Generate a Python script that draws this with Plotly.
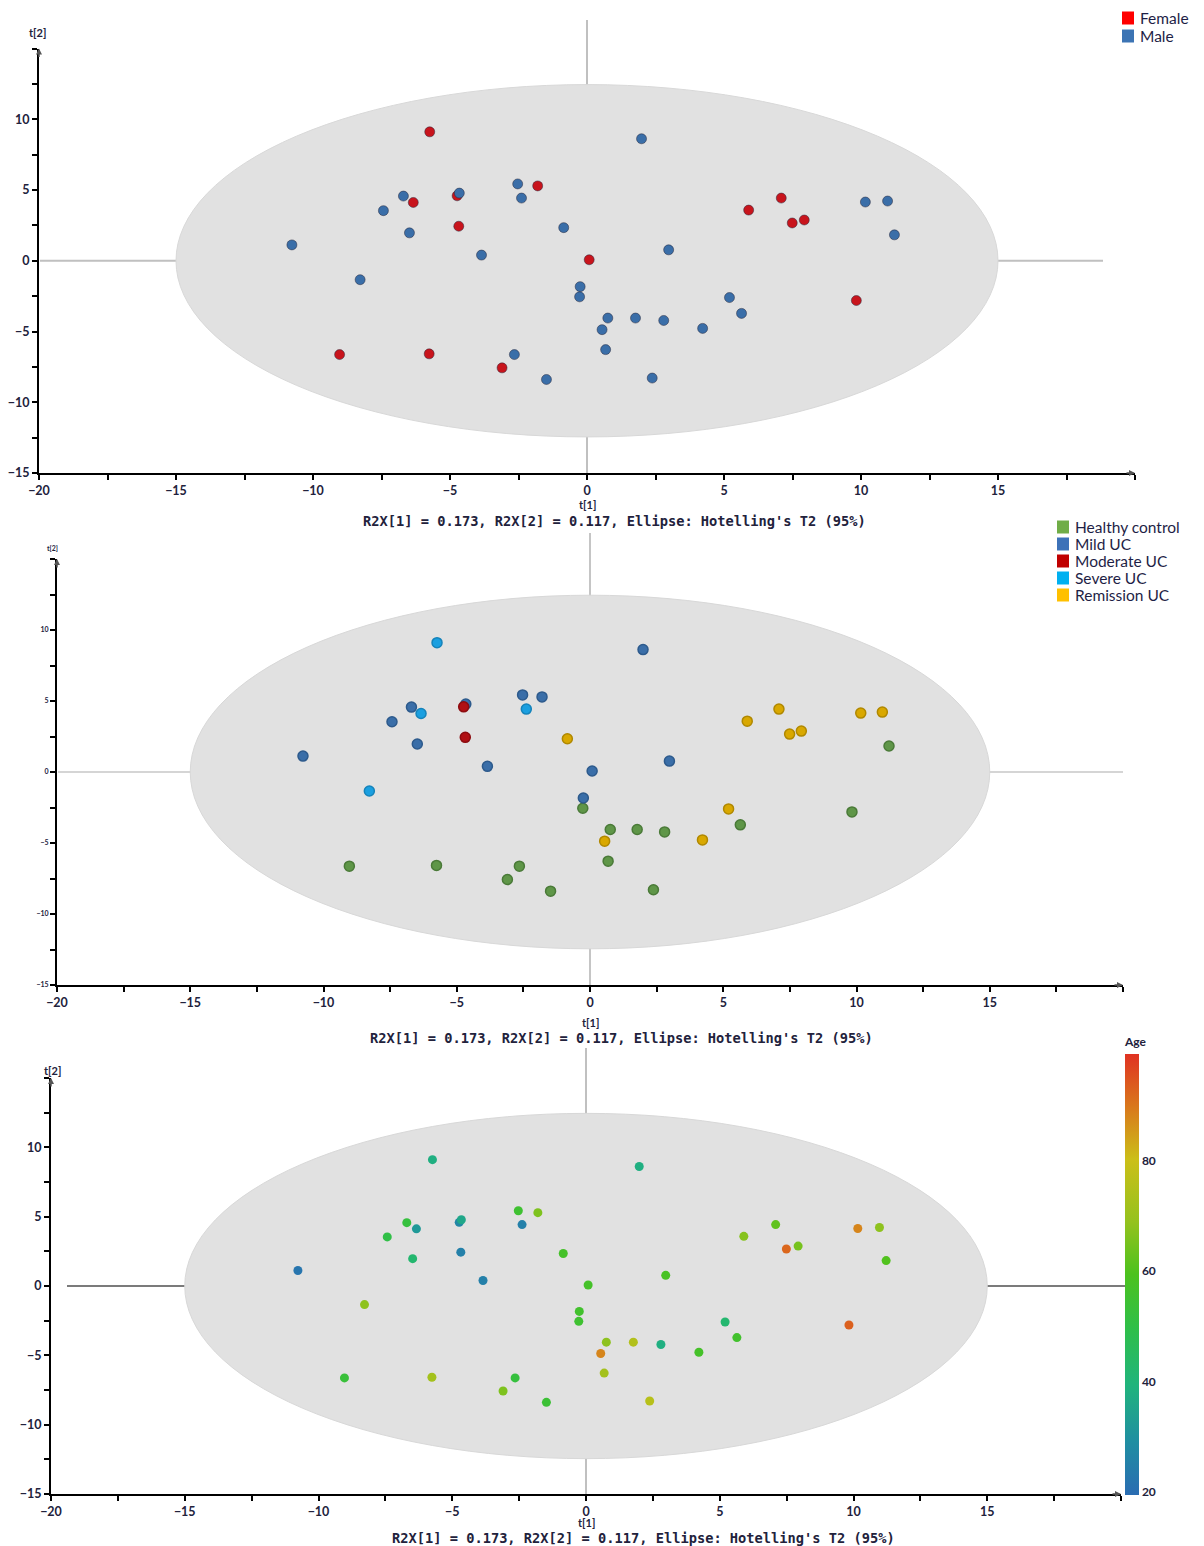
import plotly.graph_objects as go

# ---------------- data ----------------
t1 = [-5.74, -1.80, -6.34, -4.74, -4.68, 0.08, -9.03, -5.76, -3.10, 5.90, 7.09, 7.49, 7.93, 9.83,
      1.99, -2.53, -2.39, -6.70, -4.66, -7.43, -6.48, -0.85, -10.77, -3.85, -8.28, -0.25, -0.27,
      0.76, 1.77, 0.55, 0.68, -2.65, -1.48, 2.98, 2.80, 4.22, 5.20, 5.64, 2.38, 10.16, 10.97, 11.22]
t2 = [9.11, 5.29, 4.12, 4.59, 2.44, 0.07, -6.63, -6.58, -7.57, 3.58, 4.43, 2.67, 2.88, -2.81,
      8.62, 5.43, 4.43, 4.57, 4.78, 3.54, 1.97, 2.34, 1.12, 0.40, -1.34, -1.83, -2.55,
      -4.05, -4.05, -4.87, -6.28, -6.63, -8.39, 0.77, -4.22, -4.78, -2.60, -3.72, -8.29, 4.15, 4.22, 1.83]
sex = ["Female"] * 14 + ["Male"] * 28
group = ["Severe UC", "Mild UC", "Severe UC", "Moderate UC", "Moderate UC", "Mild UC",
         "Healthy control", "Healthy control", "Healthy control",
         "Remission UC", "Remission UC", "Remission UC", "Remission UC", "Healthy control",
         "Mild UC", "Mild UC", "Severe UC", "Mild UC", "Mild UC", "Mild UC", "Mild UC",
         "Remission UC", "Mild UC", "Mild UC", "Severe UC", "Mild UC", "Healthy control",
         "Healthy control", "Healthy control", "Remission UC", "Healthy control", "Healthy control",
         "Healthy control", "Mild UC", "Healthy control", "Remission UC", "Remission UC",
         "Healthy control", "Healthy control", "Remission UC", "Remission UC", "Healthy control"]
age = [38, 66, 32, 27, 25, 57, 53, 72, 66, 67, 62, 92, 65, 93,
       38, 55, 25, 52, 36, 50, 42, 57, 22, 25, 68, 56, 55,
       68, 75, 88, 72, 52, 54, 58, 38, 57, 42, 56, 76, 88, 68, 60]

sex_levels = ["Female", "Male"]
group_levels = ["Healthy control", "Mild UC", "Moderate UC", "Severe UC", "Remission UC"]
x_ticks = [-20, -15, -10, -5, 0, 5, 10, 15]
y_ticks = [-15, -10, -5, 0, 5, 10]
age_ticks = [20, 40, 60, 80]
ellipse_a, ellipse_b = 15.0, 12.45   # Hotelling's T2 (95%) semi-axes
footer = "R2X[1] = 0.173, R2X[2] = 0.117, Ellipse: Hotelling's T2 (95%)"

# ---------------- styles ----------------
sex_marker = {"Female": "#c8141c", "Male": "#3a6ea8"}
sex_legend = {"Female": "#ff0000", "Male": "#3c74b4"}
grp_marker = {"Healthy control": "#5f9648", "Mild UC": "#3a6ea8", "Moderate UC": "#b01014",
              "Severe UC": "#1a9fe0", "Remission UC": "#d9a800"}
grp_line = {"Healthy control": "#4a7a38", "Mild UC": "#2d5a8c", "Moderate UC": "#8c0c10",
            "Severe UC": "#1583ba", "Remission UC": "#b08800"}
grp_legend = {"Healthy control": "#70ad47", "Mild UC": "#3d72b8", "Moderate UC": "#c00000",
              "Severe UC": "#00b0f0", "Remission UC": "#ffc000"}
age_scale = [[0.0, "#2a6cb2"], [0.12, "#1f8ea2"], [0.25, "#20b47c"], [0.38, "#2fbf48"],
             [0.5, "#4cc21e"], [0.62, "#95c21e"], [0.76, "#cbbf18"], [0.88, "#d9781c"],
             [1.0, "#e03222"]]
TXT = "#22223c"

W, H = 1204, 1546
def px(x): return x / W
def py(y): return 1 - y / H

domains = {
    1: dict(x=[px(39), px(1135)], y=[py(473), py(48.5)]),
    2: dict(x=[px(57), px(1123)], y=[py(985), py(559)]),
    3: dict(x=[px(51), px(1121)], y=[py(1494), py(1078)]),
}

fig = go.Figure()

# Panel 1: sex
for s in sex_levels:
    idx = [i for i in range(len(t1)) if sex[i] == s]
    fig.add_trace(go.Scatter(
        x=[t1[i] for i in idx], y=[t2[i] for i in idx], mode="markers", name=s, showlegend=False,
        marker=dict(size=10, color=sex_marker[s], line=dict(width=1, color="rgba(40,40,60,0.5)")),
        xaxis="x", yaxis="y"))

# Panel 2: group
for g in group_levels:
    idx = [i for i in range(len(t1)) if group[i] == g]
    fig.add_trace(go.Scatter(
        x=[t1[i] for i in idx], y=[t2[i] for i in idx], mode="markers", name=g, showlegend=False,
        marker=dict(size=10, color=grp_marker[g], line=dict(width=1.5, color=grp_line[g])),
        xaxis="x2", yaxis="y2"))

# Panel 3: age
fig.add_trace(go.Scatter(
    x=t1, y=t2, mode="markers", name="Age", showlegend=False,
    marker=dict(size=9, color=age, colorscale=age_scale, cmin=19.5, cmax=99.3,
                colorbar=dict(thickness=14, lenmode="pixels", len=461, x=px(1125), xanchor="left",
                              xpad=0, ypad=0,
                              y=py(1034), yanchor="top", outlinewidth=0,
                              tickvals=age_ticks, ticks="", ticklabelposition="outside",
                              tickfont=dict(size=12, color=TXT, family="Lato", weight=700),
                              title=dict(text="Age", side="top",
                                         font=dict(size=12, color=TXT, family="Lato", weight=700)))),
    xaxis="x3", yaxis="y3"))

tickfont = dict(size=12.5, color=TXT, family="Lato", weight=700)
small_tickfont = dict(size=7, color=TXT, family="Lato", weight=700)

def xaxis_cfg(n, tf):
    return dict(domain=domains[n]["x"], range=[-20, 20], anchor="y" if n == 1 else f"y{n}",
                tickvals=x_ticks, ticks="outside", ticklen=5, tickwidth=1.5, tickcolor="black",
                minor=dict(dtick=2.5, tick0=0, ticks="outside", ticklen=5, tickwidth=1.5, tickcolor="black"),
                showline=True, linecolor="black", linewidth=2, showgrid=False, zeroline=False,
                tickfont=tf, fixedrange=True, automargin=False)

def yaxis_cfg(n, tf):
    return dict(domain=domains[n]["y"], range=[-15, 15], anchor="x" if n == 1 else f"x{n}",
                tickvals=y_ticks, ticks="outside", ticklen=5, tickwidth=1.5, tickcolor="black",
                minor=dict(dtick=2.5, tick0=0, ticks="outside", ticklen=5, tickwidth=1.5, tickcolor="black"),
                showline=True, linecolor="black", linewidth=2, showgrid=False, zeroline=False,
                tickfont=tf, fixedrange=True, automargin=False)

shapes = []
annotations = []
panel_lines = {
    1: dict(v=(py(473), py(20)), h=(px(40), px(1103)), hcol="rgba(140,140,140,0.55)", vcol="rgba(150,150,150,0.6)",
            t1y=504, foot=(614, 521), t2=(37, 32, 11)),
    2: dict(v=(py(985), py(533)), h=(px(58), px(1123)), hcol="rgba(150,150,150,0.4)", vcol="rgba(150,150,150,0.55)",
            t1y=1022, foot=(621, 1038), t2=(52, 548, 7)),
    3: dict(v=(py(1500), py(1048)), h=(px(67), px(1135)), hcol="rgba(90,90,90,0.8)", vcol="rgba(150,150,150,0.6)",
            t1y=1522, foot=(644, 1538), t2=(53, 1070, 11)),
}
for n in (1, 2, 3):
    xr = "x" if n == 1 else f"x{n}"
    yr = "y" if n == 1 else f"y{n}"
    pl = panel_lines[n]
    shapes.append(dict(type="circle", xref=xr, yref=yr, x0=-ellipse_a, x1=ellipse_a,
                       y0=-ellipse_b, y1=ellipse_b, fillcolor="#e1e1e1",
                       line=dict(color="#d8d8d8", width=1), layer="below"))
    shapes.append(dict(type="line", xref=xr, yref="paper", x0=0, x1=0, y0=pl["v"][0], y1=pl["v"][1],
                       line=dict(color=pl["vcol"], width=2), layer="below"))
    shapes.append(dict(type="line", xref="paper", yref=yr, x0=pl["h"][0], x1=pl["h"][1], y0=0, y1=0,
                       line=dict(color=pl["hcol"], width=2), layer="below"))
    # axis arrows
    annotations.append(dict(xref=xr, yref=yr, x=20, y=-15, ax=-10, ay=0, text="", showarrow=True,
                            arrowhead=2, arrowsize=0.8, arrowwidth=1.5, arrowcolor="#555"))
    annotations.append(dict(xref=xr, yref=yr, x=-20, y=15, ax=0, ay=10, text="", showarrow=True,
                            arrowhead=2, arrowsize=0.8, arrowwidth=1.5, arrowcolor="#555"))
    annotations.append(dict(xref=xr, yref="paper", x=0, y=py(pl["t1y"]), xanchor="center", yanchor="middle",
                            text="t[1]", showarrow=False, borderpad=0,
                            font=dict(size=11, color=TXT, family="Lato", weight=700)))
    annotations.append(dict(xref="paper", yref="paper", x=px(pl["foot"][0]), y=py(pl["foot"][1]),
                            xanchor="center", yanchor="middle", text=footer, showarrow=False, borderpad=0,
                            font=dict(size=13.7, color=TXT, family="DejaVu Sans Mono", weight=600)))
    annotations.append(dict(xref="paper", yref="paper", x=px(pl["t2"][0]), y=py(pl["t2"][1]),
                            xanchor="center", yanchor="middle", text="t[2]", showarrow=False, borderpad=0,
                            font=dict(size=pl["t2"][2], color=TXT, family="Lato", weight=700)))

# legends (square swatches + labels)
def add_legend(labels, colors, sq_x, text_x, ys):
    for lab, yy in zip(labels, ys):
        shapes.append(dict(type="rect", xref="paper", yref="paper",
                           x0=px(sq_x), x1=px(sq_x + 12), y0=py(yy + 6.5), y1=py(yy - 6.5),
                           fillcolor=colors[lab], line=dict(width=0)))
        annotations.append(dict(xref="paper", yref="paper", x=px(text_x), y=py(yy),
                                xanchor="left", yanchor="middle", text=lab, showarrow=False, borderpad=0,
                                font=dict(size=15.5, color="#1e1e46", family="Lato")))

add_legend(sex_levels, sex_legend, 1122, 1139, [18, 36])
add_legend(group_levels, grp_legend, 1057, 1074, [527, 544, 561, 578, 595])

fig.update_layout(
    width=W, height=H, autosize=False, margin=dict(l=0, r=0, t=0, b=0),
    paper_bgcolor="white", plot_bgcolor="rgba(0,0,0,0)",
    xaxis=xaxis_cfg(1, tickfont), yaxis=yaxis_cfg(1, tickfont),
    xaxis2=xaxis_cfg(2, tickfont), yaxis2=yaxis_cfg(2, small_tickfont),
    xaxis3=xaxis_cfg(3, tickfont), yaxis3=yaxis_cfg(3, tickfont),
    shapes=shapes, annotations=annotations, showlegend=False,
)

fig.write_html("out.html")
